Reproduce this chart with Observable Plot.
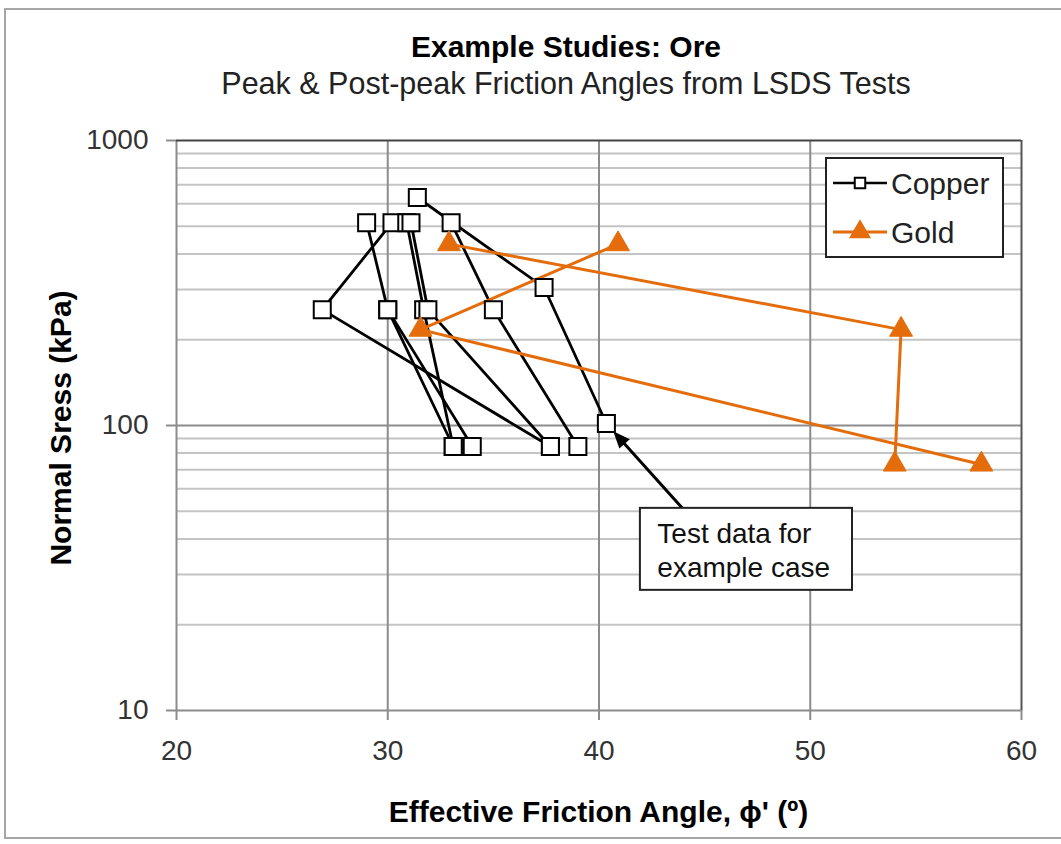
<!DOCTYPE html>
<html>
<head>
<meta charset="utf-8">
<script src="https://cdn.jsdelivr.net/npm/d3@7"></script>
<script src="https://cdn.jsdelivr.net/npm/@observablehq/plot@0.6"></script>
<style>
  html, body { margin: 0; padding: 0; background: #fff; }
  #wrap { position: relative; width: 1061px; height: 844px; overflow: hidden; font-family: "Liberation Sans", Arial, sans-serif; }
  #border { position: absolute; left: 4px; top: 8px; width: 1070px; height: 831px; border: 2px solid #a6a6a6; box-sizing: border-box; }
  .t { position: absolute; white-space: nowrap; color: #000; }
  #title { left: 0; width: 1132px; top: 30px; text-align: center; font-weight: bold; font-size: 30px; }
  #subtitle { left: 0; width: 1132px; top: 66px; text-align: center; font-size: 30.5px; color: #222; }
  #xtitle { left: 0; width: 1197px; top: 795px; text-align: center; font-weight: bold; font-size: 30px; }
  #ytitle { left: 44px; top: 428px; font-weight: bold; font-size: 30px; transform: rotate(-90deg) translateX(-50%); transform-origin: 0 0; }
  #plot { position: absolute; left: 0; top: 0; }
  #legend { position: absolute; left: 825px; top: 157px; }
</style>
</head>
<body>
<div id="wrap">
  <div id="border"></div>
  <div id="plot"></div>
  <div class="t" id="title">Example Studies: Ore</div>
  <div class="t" id="subtitle">Peak &amp; Post-peak Friction Angles from LSDS Tests</div>
  <div class="t" id="xtitle">Effective Friction Angle, ϕ' (º)</div>
  <div class="t" id="ytitle"></div>
  <div id="legend"></div>
</div>
<script>
// ---- Data ----
const seriesNames = ["Copper", "Gold"];
const xTicks = [20, 30, 40, 50, 60];
const yTicks = [10, 100, 1000];
const yMinor = [20, 30, 40, 50, 60, 70, 80, 90, 200, 300, 400, 500, 600, 700, 800, 900];

// Copper tests: test id, friction angle (deg), normal stress (kPa)
const copperTest   = [1, 1, 1,   2, 2, 2,   3, 3, 3,   4, 4, 4,   5, 5, 5,   6, 6, 6,   7, 7];
const copperPhi    = [29.0, 30.0, 34.0,  30.2, 26.9, 37.7,  30.9, 31.7, 33.1,  31.1, 31.9, 37.7,  33.0, 35.0, 39.0,  31.4, 37.4, 40.35,  30.0, 33.1];
const copperStress = [515, 255, 84.4,  515, 255, 84.4,  515, 255, 84.4,  515, 255, 84.4,  515, 255, 84.4,  631, 305, 101.6,  255, 84.4];

// Gold tests
const goldTest   = [1, 1, 1,   2, 2, 2];
const goldPhi    = [32.9, 54.3, 54.0,   40.9, 31.55, 58.1];
const goldStress = [433, 217, 73,   433, 217, 73];

// Callout (example case): box in data units, points at copper test 6, last point
const calloutText = "Test data for\nexample case";
const calloutBox = {x1: 41.96, x2: 52.0, y1: 26.4, y2: 51.2};
const calloutFrom = {x: 43.95, y: 51.2};
const exampleTest = 6;

const orange = "#E46C0A";

const copper = copperTest.map((t, i) => ({test: t, phi: copperPhi[i], stress: copperStress[i]}));
const gold = goldTest.map((t, i) => ({test: t, phi: goldPhi[i], stress: goldStress[i]}));
const exPts = copper.filter(d => d.test === exampleTest);
const exLow = exPts[exPts.length - 1];

document.getElementById("ytitle").textContent = "Normal Sress (kPa)";

const chart = Plot.plot({
  width: 1061,
  height: 844,
  marginLeft: 176,
  marginRight: 40,
  marginTop: 140,
  marginBottom: 134,
  x: {domain: [20, 60]},
  y: {type: "log", domain: [10, 1000]},
  style: {fontFamily: "'Liberation Sans', Arial, sans-serif", background: "transparent", overflow: "visible"},
  marks: [
    Plot.gridY(yMinor, {stroke: "#c4c4c4", strokeOpacity: 1, strokeWidth: 2}),
    Plot.gridY([100], {stroke: "#8c8c8c", strokeOpacity: 1, strokeWidth: 2}),
    Plot.gridX([30, 40, 50], {stroke: "#8c8c8c", strokeOpacity: 1, strokeWidth: 2}),
    Plot.ruleX([20], {stroke: "#8c8c8c", strokeWidth: 2}),
    Plot.ruleY([10], {stroke: "#8c8c8c", strokeWidth: 2}),
    Plot.ruleY([1000], {stroke: "#444", strokeWidth: 2}),
    Plot.ruleX([60], {stroke: "#555", strokeWidth: 2}),
    Plot.axisX(xTicks, {tickSize: 10, tickPadding: 20, fontSize: 28, stroke: "#8c8c8c", strokeWidth: 2, fill: "#333", label: null, tickFormat: d => String(d)}),
    Plot.axisY(yTicks, {tickSize: 10, tickPadding: 18, fontSize: 28, stroke: "#8c8c8c", strokeWidth: 2, fill: "#333", label: null, tickFormat: d => String(d)}),
    Plot.line(copper, {x: "phi", y: "stress", z: "test", stroke: "#000", strokeWidth: 2.8}),
    Plot.line(gold, {x: "phi", y: "stress", z: "test", stroke: orange, strokeWidth: 3}),
    Plot.dot(copper, {x: "phi", y: "stress", symbol: "square", r: 9.6, fill: "#fff", stroke: "#000", strokeWidth: 2}),
    Plot.dot(gold, {x: "phi", y: "stress", symbol: "triangle", r: 8.5, fill: orange, stroke: orange, strokeWidth: 1}),
    Plot.arrow([calloutFrom], {x1: "x", y1: "y", x2: () => exLow.phi, y2: () => exLow.stress, insetEnd: 22, headLength: 0, stroke: "#000", strokeWidth: 3}),
    Plot.rect([calloutBox], {x1: "x1", x2: "x2", y1: "y1", y2: "y2", fill: "#fff", stroke: "#222", strokeWidth: 2}),
    Plot.text([calloutBox], {x: d => d.x1 + 0.8, y: d => Math.sqrt(d.y1 * d.y2), text: () => calloutText, textAnchor: "start", fontSize: 28, lineHeight: 1.2, fill: "#111"})
  ]
});
document.getElementById("plot").appendChild(chart);

// Filled arrow head, placed with the chart's own scales
{
  const sx = chart.scale("x"), sy = chart.scale("y");
  const fx = sx.apply(calloutFrom.x), fy = sy.apply(calloutFrom.y);
  const tx = sx.apply(exLow.phi), ty = sy.apply(exLow.stress);
  const len = Math.hypot(fx - tx, fy - ty);
  const ux = (fx - tx) / len, uy = (fy - ty) / len;
  const px = tx + ux * 11, py = ty + uy * 11;  // tip
  const bx = px + ux * 17, by = py + uy * 17;  // base center
  const w = 7;
  const pts = [[px, py], [bx - uy * w, by + ux * w], [bx + uy * w, by - ux * w]];
  d3.select(chart).append("polygon").attr("points", pts.map(p => p.join(",")).join(" ")).attr("fill", "#000");
}

// Legend (inside plot area, top right)
const lg = d3.select("#legend").append("svg").attr("width", 180).attr("height", 102)
  .style("font-family", "'Liberation Sans', Arial, sans-serif");
lg.append("rect").attr("x", 1).attr("y", 1).attr("width", 177).attr("height", 99)
  .attr("fill", "#fff").attr("stroke", "#222").attr("stroke-width", 2);
const rows = [
  {name: seriesNames[0], color: "#000", sym: d3.symbolSquare, fill: "#fff", y: 26},
  {name: seriesNames[1], color: orange, sym: d3.symbolTriangle, fill: orange, y: 75}
];
rows.forEach(r => {
  lg.append("line").attr("x1", 8).attr("x2", 62).attr("y1", r.y).attr("y2", r.y)
    .attr("stroke", r.color).attr("stroke-width", r.color === orange ? 3 : 2.6);
  lg.append("path").attr("d", d3.symbol(r.sym, r.sym === d3.symbolSquare ? 110 : 150)())
    .attr("transform", `translate(35,${r.y})`).attr("fill", r.fill).attr("stroke", r.color).attr("stroke-width", 2);
  lg.append("text").attr("x", 66).attr("y", r.y).attr("dy", "0.35em").attr("font-size", 30)
    .attr("fill", "#222").text(r.name);
});
</script>
</body>
</html>
